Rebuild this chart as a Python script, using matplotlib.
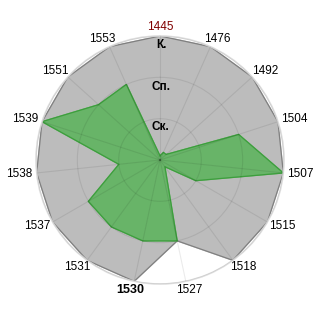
import matplotlib
matplotlib.use('Agg')
import matplotlib.pyplot as plt
import numpy as np

categories = ['1445', '1476', '1492', '1504', '1507', '1515', '1518', '1527',
              '1530', '1531', '1537', '1538', '1539', '1551', '1553']
# верхняя граница (серая область)
upper_values = [3, 3, 3, 3, 3, 3, 3, 2, 3, 3, 3, 3, 3, 3, 3]
# фактические значения (зелёная область)
actual_values = [0.1, 0.2, 0.2, 2, 3, 1, 0.2, 2, 2, 2, 2, 1, 3, 2, 2]
level_labels = ['Ск.', 'Сп.', 'К.']
level_positions = [0.8, 1.77, 2.78]

plt.rcParams['font.family'] = ['Liberation Sans', 'DejaVu Sans']

fig = plt.figure(figsize=(3.2, 3.2), dpi=100)
ax = fig.add_axes([0.1125, 0.1125, 0.775, 0.775], projection='polar')
ax.set_theta_zero_location('N')
ax.set_theta_direction(-1)

n = len(categories)
angles = np.linspace(0, 2 * np.pi, n, endpoint=False)
closed = np.concatenate([angles, angles[:1]])

upper = np.array(upper_values + upper_values[:1], dtype=float)
actual = np.array(actual_values + actual_values[:1], dtype=float)

ax.fill(closed, upper, color='#bcbcbc', zorder=1)
ax.plot(closed, upper, color='#808080', linewidth=0.9, zorder=1.5)
ax.fill(closed, actual, color='#68b468', zorder=1.6)
ax.plot(closed, actual, color='#3d9e3d', linewidth=0.9, zorder=1.7)

ax.set_ylim(0, 3)
ax.set_yticks([1, 2, 3])
ax.set_yticklabels([])
ax.set_xticks(angles)
ax.set_xticklabels([])
ax.grid(True, color='k', alpha=0.08, linewidth=0.8)
ax.set_axisbelow(False)
ax.spines['polar'].set_color('#dddddd')
ax.spines['polar'].set_linewidth(1.2)
ax.tick_params(length=0)

# подписи категорий
w, h = 27, 9
for ang, lab in zip(angles, categories):
    sx, sy = np.sin(ang), np.cos(ang)
    ox = (4 * sx + w / 2 * sx) * 0.72
    oy = (4 * sy + h / 2 * sy) * 0.72
    color = 'black'
    weight = 'normal'
    size = 8.5
    if lab == '1445':
        color = '#800000'
    if lab == '1530':
        weight = 'bold'
        size = 9
    ax.annotate(lab, xy=(ang, 3), xytext=(ox, oy), textcoords='offset points',
                ha='center', va='center', color=color, fontsize=size,
                fontweight=weight, annotation_clip=False)

for r, lab in zip(level_positions, level_labels):
    ax.text(0.01, r, lab, ha='center', va='center', fontsize=8.5,
            fontweight='bold', zorder=5)

fig.savefig('out.png', dpi=100)
